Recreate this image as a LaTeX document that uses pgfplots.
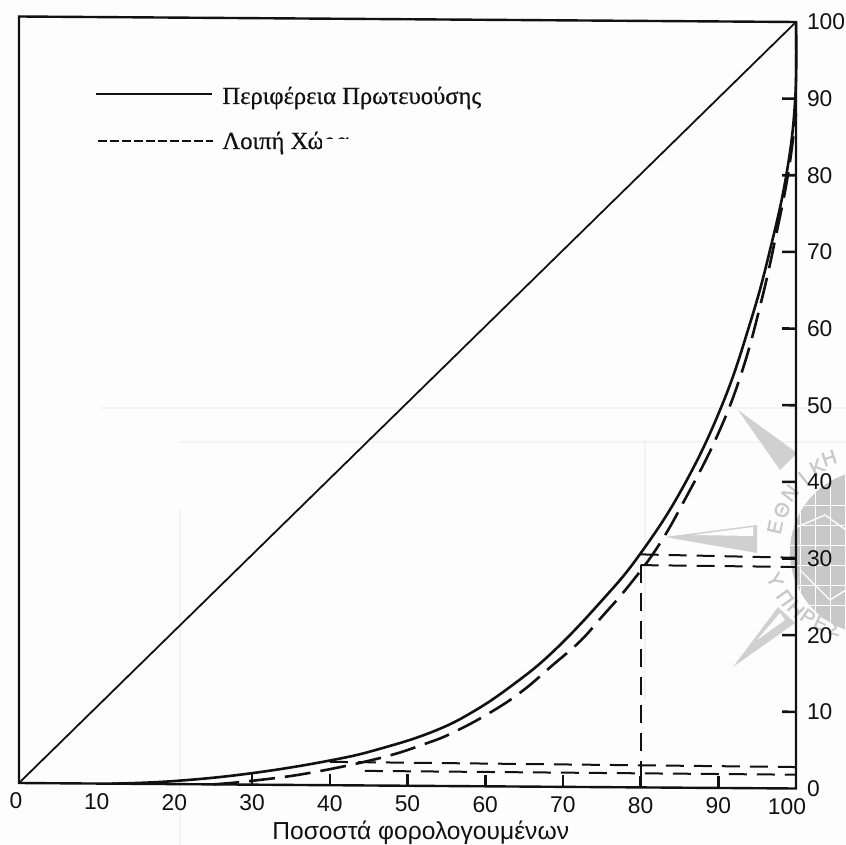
\documentclass[border=0pt]{standalone}
\usepackage{pgfplots}
\pgfplotsset{compat=1.18}
\usepackage{fontspec}
\setmainfont{Liberation Serif}
\setsansfont{Liberation Sans}
\newfontfamily\lgd[FakeBold=0.6]{Liberation Serif}
\newfontfamily\wmf[FakeBold=1.5]{Liberation Sans}
\definecolor{paper}{HTML}{FDFDFD}
\definecolor{wm}{HTML}{D0D0D0}
\definecolor{wmd}{HTML}{C8C8C8}
\definecolor{ghost}{HTML}{F3F3F3}
\definecolor{ink}{HTML}{111111}
\begin{document}
\begin{tikzpicture}[x=0.5pt,y=-0.5pt]
\path[use as bounding box,fill=paper] (0,0) rectangle (846,845);
\begin{scope}
\clip (0,0) rectangle (846,845);
\draw[ghost,line width=0.8pt] (100,408) -- (846,408);
\draw[ghost,line width=0.8pt] (180,442) -- (846,442);
\draw[ghost,line width=0.8pt] (180,510) -- (180,845);
\draw[ghost,line width=0.8pt] (645,440) -- (645,700);
\fill[wm] (665,537) -- (757,525) -- (757,553) -- cycle;
\fill[paper] (693,535) -- (753,527) -- (753,536) -- cycle;
\fill[wm] (738,410) -- (797,453) -- (780,470) -- cycle;
\fill[wm] (733,667) -- (778,607) -- (795,623) -- cycle;
\fill[paper] (757,640) -- (780,613) -- (785,620) -- cycle;
\fill[wmd] (872,552) circle[radius=82];
\begin{scope}
\clip (872,552) circle[radius=82];
\foreach \x in {800,815,830,845}{\draw[paper,line width=0.5pt] (\x,470) -- (\x,640);}
\foreach \y in {505,525,545,565,585,605}{\draw[paper,line width=0.5pt] (780,\y) -- (846,\y);}
\draw[paper,line width=0.7pt] (790,530) -- (825,515) -- (846,530);
\draw[paper,line width=0.7pt] (800,570) -- (830,600) -- (846,590);
\end{scope}
\foreach \px/\py/\r/\l in {775/527/78/Ε,782/510/66/Θ,790/493/52/Ν,803/478/38/Ι,817/467/28/Κ,829/458/18/Η,775/580/-65/Υ,785/598/-55/Π,796/609/-45/Η,808/617/-35/Ρ,821/623/-25/Ε,835/628/-15/Σ}{
  \node[wmd,inner sep=0pt,font=\wmf\fontsize{10}{10}\selectfont,rotate=\r] at (\px,\py) {\l};
}
\end{scope}
\begin{axis}[
  at={(9.5pt,-391.5pt)},anchor=origin,
  x={(3.885pt,-0.0275pt)},y={(0pt,3.8325pt)},
  xmin=0,xmax=100,ymin=0,ymax=100,
  axis line style={line width=1.2pt,color=ink},
  xtick={0,10,20,30,40,50,60,70,80,90,100},
  xticklabels={0\kern3pt,10,20,30,40,50,60,70,80,90,100\kern9pt},
  ytick={0,10,20,30,40,50,60,70,80,90,100},
  xticklabel pos=lower,yticklabel pos=right,
  ytick pos=right,xtick pos=lower,
  major tick length=0pt,
  /pgf/number format/assume math mode=true,
  tick label style={font=\sffamily\fontsize{11.4}{12}\selectfont,color=ink},
  xticklabel style={anchor=north,yshift=-1.5pt},
  yticklabel style={anchor=west,xshift=2pt},
  xlabel={Ποσοστά φορολογουμένων},
  xlabel style={font=\sffamily\fontsize{12.3}{13}\selectfont,color=ink,at={(axis description cs:0.517,-0.057)},anchor=center},
  clip=false,
]
\addplot[line width=1.3pt,color=ink] coordinates {(100,10) (98.2,10)};
\addplot[line width=1.3pt,color=ink] coordinates {(100,20) (98.2,20)};
\addplot[line width=1.3pt,color=ink] coordinates {(100,30) (98.2,30)};
\addplot[line width=1.3pt,color=ink] coordinates {(100,40) (98.2,40)};
\addplot[line width=1.3pt,color=ink] coordinates {(100,50) (98.2,50)};
\addplot[line width=1.3pt,color=ink] coordinates {(100,60) (98.2,60)};
\addplot[line width=1.3pt,color=ink] coordinates {(100,70) (98.2,70)};
\addplot[line width=1.3pt,color=ink] coordinates {(100,80) (98.2,80)};
\addplot[line width=1.3pt,color=ink] coordinates {(100,90) (98.2,90)};
\addplot[line width=1.3pt,color=ink] coordinates {(30,0) (30,1.5)};
\addplot[line width=1.3pt,color=ink] coordinates {(40,0) (40,1.5)};
\addplot[line width=1.3pt,color=ink] coordinates {(50,0) (50,1.5)};
\addplot[line width=1.3pt,color=ink] coordinates {(60,0) (60,1.5)};
\addplot[line width=1.3pt,color=ink] coordinates {(70,0) (70,1.5)};
\addplot[line width=1.3pt,color=ink] coordinates {(80,0) (80,1.5)};
\addplot[line width=1.3pt,color=ink] coordinates {(90,0) (90,1.5)};
\addplot[line width=0.9pt,color=ink] coordinates {(0,0) (100,100)};
\addplot[line width=1.3pt,color=ink,smooth,tension=0.7] coordinates {
(12,0) (20,0.4) (30,1.5) (40.4,3.3) (46.8,4.9) (53.3,7.1) (58.4,9.7) (63.6,13.3) (68.7,17.6) (74.8,24.1) (79.9,30.4) (85.5,39.3) (90.5,50) (94.1,60.7) (96.6,70) (98.8,80.3) (99.9,90) (100,100)};
\addplot[line width=1.3pt,color=ink,smooth,tension=0.7,dash pattern=on 13pt off 5pt] coordinates {
(25,0) (30,0.5) (37.5,1.6) (46.5,3.6) (52.3,5.5) (55.9,7.0) (60.6,9.6) (64.7,12.4) (68.6,15.8) (72.2,19) (75,22.2) (78.4,26.2) (82.2,31.4) (85.7,37.6) (89.8,45.8) (93,54.2) (95.6,63.8) (97.5,72.5) (99,80.3) (100,88)};
\addplot[line width=1pt,color=ink,dash pattern=on 9pt off 5pt] coordinates {(80,30.4) (100,30.1)};
\addplot[line width=1pt,color=ink,dash pattern=on 9pt off 5pt] coordinates {(80,29) (100,28.9)};
\addplot[line width=1pt,color=ink,dash pattern=on 9pt off 5pt] coordinates {(80,29) (80,0)};
\addplot[line width=1pt,color=ink,dash pattern=on 9pt off 5pt] coordinates {(40,3.05) (100,2.8)};
\addplot[line width=1pt,color=ink,dash pattern=on 9pt off 5pt] coordinates {(44.5,1.9) (100,1.8)};
\end{axis}
\draw[line width=1.1pt,color=ink] (96,94) -- (212,94);
\draw[line width=1.2pt,color=ink,dash pattern=on 4.6pt off 1.4pt] (98,141) -- (213,141);
\node[anchor=base west,inner sep=0pt,font=\lgd\fontsize{12.3}{13}\selectfont,color=ink] at (222,104) {Περιφέρεια Πρωτευούσης};
\node[anchor=base west,inner sep=0pt,font=\lgd\fontsize{12.3}{13}\selectfont,color=ink] at (222,149) {Λοιπή Χώρα};
\fill[paper] (322,139) rectangle (400,160);
\end{tikzpicture}
\end{document}
